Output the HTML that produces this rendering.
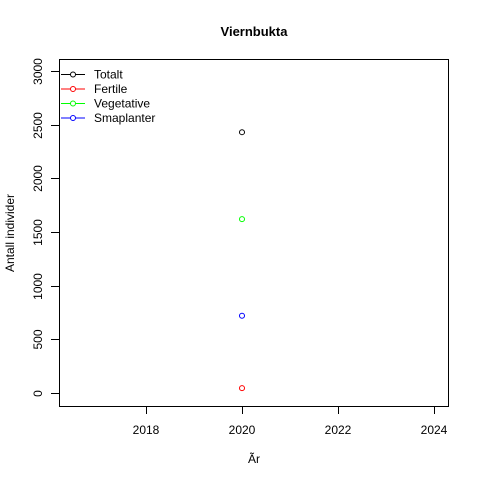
<!DOCTYPE html>
<html><head><meta charset="utf-8"><style>
html,body{margin:0;padding:0;background:#fff}
svg{display:block;font-family:"Liberation Sans",Arial,sans-serif}
</style></head><body>
<svg id="chart" width="480" height="480" viewBox="0 0 480 480">
<rect x="0" y="0" width="480" height="480" fill="#fff"/>
<text x="254" y="36" text-anchor="middle" font-size="13" font-weight="bold">Viernbukta</text>
<rect x="59.5" y="59.5" width="389" height="347" fill="none" stroke="#000"/>
<g id="xaxis"></g>
<g id="yaxis"></g>
<text x="254" y="463" text-anchor="middle" font-size="12">Ãr</text>
<text transform="translate(14,233) rotate(-90)" text-anchor="middle" font-size="12">Antall individer</text>
<g id="points"></g>
<g id="legend"></g>
</svg>
<script>
const years = [2020];
const seriesNames = ["Totalt","Fertile","Vegetative","Smaplanter"];
const seriesColors = ["#000000","#ff0000","#00ff00","#0000ff"];
const totalt = [2430];
const fertile = [45];
const vegetative = [1620];
const smaplanter = [720];
const xTicks = [2018,2020,2022,2024];
const yTicks = [0,500,1000,1500,2000,2500,3000];
const NS="http://www.w3.org/2000/svg";
function xs(v){return 242+(v-2020)*48;}
function ys(v){return 393-v*0.10733;}
function mk(tag,attrs,parent){const e=document.createElementNS(NS,tag);for(const k in attrs)e.setAttribute(k,attrs[k]);parent.appendChild(e);return e;}
const xa=document.getElementById('xaxis'),ya=document.getElementById('yaxis');
mk('line',{x1:xs(xTicks[0]),x2:xs(xTicks[xTicks.length-1]),y1:406.5,y2:406.5,stroke:'#000'},xa);
xTicks.forEach(t=>{
  const l=mk('line',{x1:xs(t)+0.5,x2:xs(t)+0.5,y1:406.5,y2:414,stroke:'#000'},xa);
  
  
  const tx=mk('text',{x:xs(t),y:434,'text-anchor':'middle','font-size':'12'},xa);tx.textContent=t;
  
  
});
yTicks.forEach(t=>{
  const y=Math.round(ys(t))+0.5;
  const l=mk('line',{x1:51,x2:59.5,y1:y,y2:y,stroke:'#000'},ya);
  
  
  const tx=mk('text',{transform:`translate(42,${y}) rotate(-90)`,'text-anchor':'middle','font-size':'12'},ya);tx.textContent=t;
  
  
});
const pts=document.getElementById('points');
[totalt,fertile,vegetative,smaplanter].forEach((arr,i)=>{
  arr.forEach((v,j)=>{
    const c=mk('circle',{cx:xs(years[j]),cy:ys(v),r:2.5,fill:'none',stroke:seriesColors[i]},pts);
    
    
  });
});
const lg=document.getElementById('legend');
seriesNames.forEach((n,i)=>{
  const y=74.5+i*14.5;
  const l=mk('line',{x1:61,x2:85,y1:y,y2:y,stroke:seriesColors[i]},lg);
  
  
  mk('circle',{cx:73,cy:y,r:2.5,fill:'#fff',stroke:seriesColors[i]},lg);
  const t=mk('text',{x:94,y:y+4,'font-size':'12'},lg);t.textContent=n;
  
  
});
</script>
</body></html>
